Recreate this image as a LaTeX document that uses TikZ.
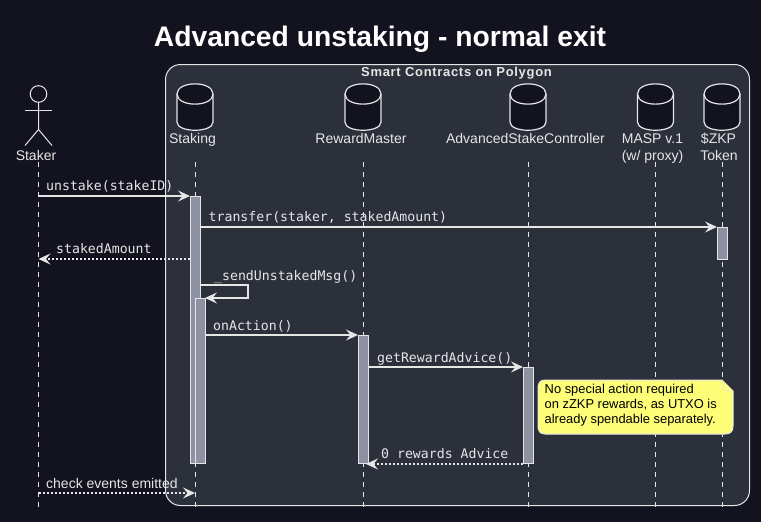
\documentclass[tikz,border=0pt]{standalone}
\usepackage{fontspec}
\setmainfont{Liberation Sans}
\newfontfamily\monof{DejaVu Sans Mono}
\newfontfamily\groupf[LetterSpace=5.3]{Liberation Sans Bold}
\usetikzlibrary{arrows.meta}
\definecolor{bgc}{HTML}{12131E}
\definecolor{boxc}{HTML}{2B303B}
\definecolor{linec}{HTML}{E6E6E6}
\definecolor{barc}{HTML}{8D91A1}
\definecolor{notec}{HTML}{FDFD78}
\tikzset{
  x=1pt,y=-1pt,
  lifeline/.style={draw=linec,line width=1pt,dash pattern=on 5pt off 5pt},
  msg/.style={draw=linec,line width=1.3pt,-{Stealth[length=12pt,width=11pt,inset=4.5pt,fill=linec]}},
  rmsg/.style={msg,dash pattern=on 2pt off 2pt},
  bar/.style={rectangle,draw=linec,fill=barc,line width=1pt,anchor=north west,inner sep=0pt,minimum width=10pt},
  mlabel/.style={font=\monof\fontsize{13.2}{15}\selectfont,text=linec,anchor=base west,inner sep=0pt},
  plabel/.style={font=\fontsize{14}{17}\selectfont,text=linec,align=center,anchor=base,inner sep=0pt},
  actorline/.style={draw=linec,line width=1pt},
  db/.style={draw=linec,fill=bgc,line width=1.2pt},
}
\newcommand{\dbshape}[1]{%
  \draw[db] (#1-18,94) .. controls (#1-18,80.5) and (#1+18,80.5) .. (#1+18,94)
    -- (#1+18,122) .. controls (#1+18,133) and (#1-18,133) .. (#1-18,122) -- cycle;
  \draw[db,fill=none] (#1-18,94) .. controls (#1-18,107.5) and (#1+18,107.5) .. (#1+18,94);
}
\begin{document}
\begin{tikzpicture}
\useasboundingbox (0,0) rectangle (761,522);
\fill[bgc] (0,0) rectangle (761,522);
\node[font=\bfseries\fontsize{28.25}{32}\selectfont,text=white,anchor=base,inner sep=0pt] (title) at (380,46) {Advanced unstaking - normal exit};
% group box
\draw[draw=linec,fill=boxc,line width=1pt,rounded corners=15pt] (165.5,64.5) rectangle (749.5,505.5);
\node[font=\groupf\fontsize{13}{15}\selectfont,text=linec,anchor=base,inner sep=0pt] (group) at (456.5,76.5) {Smart Contracts on Polygon};
% lifeline ends
\coordinate (s0) at (38.5,162); \coordinate (s1) at (38.5,507);
\coordinate (a0) at (195,162); \coordinate (a1) at (195,509);
\coordinate (b0) at (363,162); \coordinate (b1) at (363,509);
\coordinate (c0) at (528,162); \coordinate (c1) at (528,509);
\coordinate (d0) at (655.5,162); \coordinate (d1) at (655.5,509);
\coordinate (e0) at (722,162); \coordinate (e1) at (722,509);
\draw[lifeline] (s0) -- (s1);
\draw[lifeline] (a0) -- (a1);
\draw[lifeline] (b0) -- (b1);
\draw[lifeline] (c0) -- (c1);
\draw[lifeline] (d0) -- (d1);
\draw[lifeline] (e0) -- (e1);
% actor
\draw[actorline] (38.5,94) circle (8.3);
\coordinate (neck) at (38.5,102.3);
\coordinate (hip) at (38.5,129.5);
\draw[actorline] (neck) -- (hip) -- (25,145.5);
\draw[actorline] (hip) -- (52,145.5);
\draw[actorline] (25,110.5) -- (52,110.5);
\node[plabel] (staker) at (36,160) {Staker};
% databases
\dbshape{195}\dbshape{363}\dbshape{528}\dbshape{655.5}\dbshape{722}
\node[plabel] (staking) at (192.5,143) {Staking};
\node[plabel] (reward) at (361,143) {RewardMaster};
\node[plabel] (asc) at (525.5,143) {AdvancedStakeController};
\node[plabel] (masp) at (652.5,143) {MASP v.1};
\node[plabel] (masp2) at (652.5,160) {(w/ proxy)};
\node[plabel] (zkp) at (718.5,143) {\$ZKP};
\node[plabel] (zkp2) at (719,160) {Token};
% activation bars
\node[bar,minimum height=267pt] (ba) at (190,196) {};
\node[bar,minimum height=165pt] (bb) at (195,298) {};
\node[bar,minimum height=128pt] (bc) at (358,335) {};
\node[bar,minimum height=96pt] (bd) at (523,367) {};
\node[bar,minimum height=32pt] (be) at (717,227) {};
% messages
\coordinate (m1) at (38.5,196);
\draw[msg] (m1) -- (ba.north west);
\node[mlabel] (t1) at (46,190) {unstake(stakeID)};
\draw[msg] (ba.east |- 0,227) -- (be.north west);
\node[mlabel] (t2) at (208.5,221) {transfer(staker, stakedAmount)};
\coordinate (m3) at (38.5,259);
\draw[rmsg] (ba.west |- m3) -- (m3);
\node[mlabel] (t3) at (56,253) {stakedAmount};
\draw[msg,shorten >=-1pt] (ba.east |- 0,285) -- (248,285) -- (248,298) -- (bb.north east);
\node[mlabel] (t4) at (214,280) {\_sendUnstakedMsg()};
\draw[msg] (bb.east |- bc.north) -- (bc.north west);
\node[mlabel] (t5) at (213,330) {onAction()};
\draw[msg] (bc.east |- bd.north) -- (bd.north west);
\node[mlabel] (t6) at (377,362) {getRewardAdvice()};
\draw[rmsg,shorten >=-3pt] (bd.south west) -- (bc.south east);
\node[mlabel] (t7) at (381,458) {0 rewards Advice};
\coordinate (m8a) at (38.5,493);
\coordinate (m8b) at (195,493);
\draw[rmsg] (m8a) -- (m8b);
\node[mlabel,font=\fontsize{14}{15}\selectfont] (t8) at (46,488) {check events emitted};
% note
\draw[draw=linec,fill=notec,line width=1pt]
  (545,380) -- (722,380) -- (733,391) -- (733,426)
  .. controls (733,432) and (730,434) .. (725,434) -- (545,434)
  .. controls (540,434) and (538,431) .. (538,426) -- (538,388)
  .. controls (538,383) and (540,380) .. (545,380) -- cycle;
\draw[draw=linec,fill=notec,line width=0.8pt] (722,380) .. controls (722,388) and (724,391) .. (733,391);
\node[font=\fontsize{12.9}{15}\selectfont,text=black,anchor=north west,align=left,inner sep=0pt] (note) at (544.5,384) {No special action required\\on zZKP rewards, as UTXO is\\already spendable separately.};
\end{tikzpicture}
\end{document}
